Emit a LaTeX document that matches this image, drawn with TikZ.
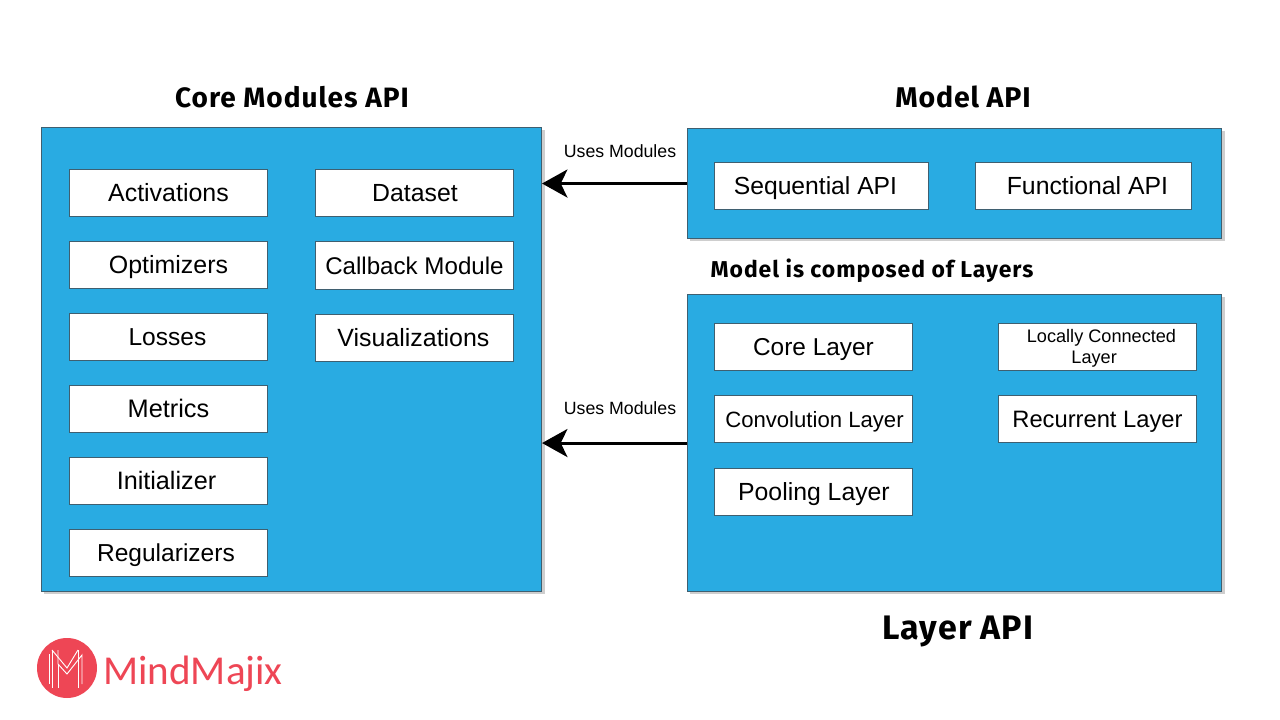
\documentclass[tikz,border=0pt]{standalone}
\usepackage{fontspec}
\setmainfont{Liberation Sans}
\newfontfamily\headfont{Fira Sans}
\newfontfamily\headfontA[LetterSpace=3.5]{Fira Sans}
\newfontfamily\headfontB[LetterSpace=4.2]{Fira Sans}
\newfontfamily\headfontC[LetterSpace=3.0]{Fira Sans}
\newfontfamily\logofont{Carlito}
\usetikzlibrary{arrows.meta}
\definecolor{panelblue}{HTML}{29ABE2}
\definecolor{edgegray}{HTML}{3F5F70}
\definecolor{brandred}{HTML}{EE4655}
\newcommand{\px}{0.75pt}
\tikzset{
  x=0.75pt,y=-0.75pt,
  panel/.style={draw=edgegray,line width=0.8pt,fill=panelblue,anchor=north west,inner sep=0pt},
  item/.style={draw=edgegray,line width=0.7pt,fill=white,text=black,anchor=north west,inner sep=0pt,align=center},
  heading/.style={font=\headfontA\bfseries\fontsize{21}{26}\selectfont,text=black,inner sep=0pt},
  uses/.style={font=\fontsize{13.3}{15}\selectfont,text=black,inner sep=0pt},
  flow/.style={line width=2.3pt,draw=black,-{Stealth[length=19pt,width=21pt,inset=5pt]}},
  mstroke/.style={draw=white,line width=0.7pt}
}
\newcommand{\panelbox}[5]{%
  \fill[black!35,opacity=.55] (#2+3,#3+3) rectangle (#4+3,#5+3);
  \node[panel,minimum width=(#4-#2-1)*\px,minimum height=(#5-#3)*\px] (#1) at (#2,#3) {};}
\newcommand{\itembox}[8][18.7]{%
  \node[item,text height=17pt,text depth=4pt,font=\fontsize{#1}{20}\selectfont,minimum width=(#5-#3)*\px,minimum height=(#6-#4)*\px] (#2) at (#3,#4) {#8\hspace*{#7\dimexpr-1.5pt\relax}};}
\begin{document}
\begin{tikzpicture}
\useasboundingbox (0,0) rectangle (1280,720);
\fill[white] (0,0) rectangle (1280,720);

\panelbox{core}{41}{127}{542}{591}
\panelbox{model}{687}{128}{1222}{238}
\panelbox{layer}{687}{294}{1222}{591}

\node[heading] (tcore) at (292,97) {Core Modules API};
\node[heading,font=\headfontC\bfseries\fontsize{21.4}{26}\selectfont] (tmodel) at (963,97) {Model API};
\node[heading,font=\headfontC\bfseries\fontsize{25.5}{30}\selectfont] (tlayer) at (958,631) {Layer API};
\node[heading,font=\headfontB\bfseries\fontsize{17.2}{20}\selectfont] (tcomp) at (872,271) {Model is composed of Layers};

\itembox{act}{69}{169}{267}{216}{0}{Activations}
\itembox{opt}{69}{241}{267}{288}{0}{Optimizers}
\itembox[18.4]{los}{69}{313}{267}{360}{-1}{Losses}
\itembox[19]{met}{69}{385}{267}{432}{0}{Metrics}
\itembox[18.9]{ini}{69}{457}{267}{504}{-2}{Initializer}
\itembox[18.4]{reg}{69}{529}{267}{576}{-2.5}{Regularizers}
\itembox[18.6]{dat}{315}{169}{513}{216}{0.5}{Dataset}
\itembox[18.1]{cal}{315}{241}{513}{289}{0}{Callback Module}
\itembox{vis}{315}{314}{513}{361}{-1}{Visualizations}
\itembox[18.5]{seq}{714}{162}{928}{209}{-6}{Sequential API}
\itembox[18.6]{fun}{975}{162}{1191}{209}{4}{Functional API}
\itembox[18.3]{cor}{714}{323}{912}{370}{0}{Core Layer}
\itembox[16.6]{con}{714}{395}{912}{442}{1}{Convolution Layer}
\itembox[18.6]{poo}{714}{468}{912}{515}{0.5}{Pooling Layer}
\node[item,font=\fontsize{13.6}{16}\selectfont,text height=28pt,text depth=3.2pt,minimum width=198*\px,minimum height=47*\px] (loc) at (998,323) {\hspace*{6pt}Locally Connected\\Layer\hspace*{5pt}};
\itembox[17.8]{rec}{998}{395}{1196}{442}{0}{Recurrent Layer}

\coordinate (coreA) at (core.east |- model.west);
\coordinate (coreB) at (core.east |- layer.west);
\draw[flow] (model.west) -- (coreA);
\draw[flow] (layer.west) -- (coreB);
\node[uses] (u1) at (620,151) {Uses Modules};
\node[uses] (u2) at (620,408) {Uses Modules};

% logo
\node[circle,fill=brandred,minimum size=60*\px,inner sep=0pt] (logo) at (67,668) {};
\draw[mstroke] (49,654) -- (49,684);
\draw[mstroke] (52,651) -- (52,688);
\draw[mstroke] (52,650) -- (67,668) -- (78,650);
\draw[mstroke] (58,650) -- (58,664) -- (67,674) -- (82,655) -- (82,684);
\draw[mstroke] (78,650) -- (78,688);
\draw[mstroke] (58,664) -- (58,688);
\node[anchor=west,inner sep=0pt,text=brandred,font=\logofont\fontsize{30.8}{36}\selectfont] (brand) at (103,674) {MindMajix};
\end{tikzpicture}
\end{document}
